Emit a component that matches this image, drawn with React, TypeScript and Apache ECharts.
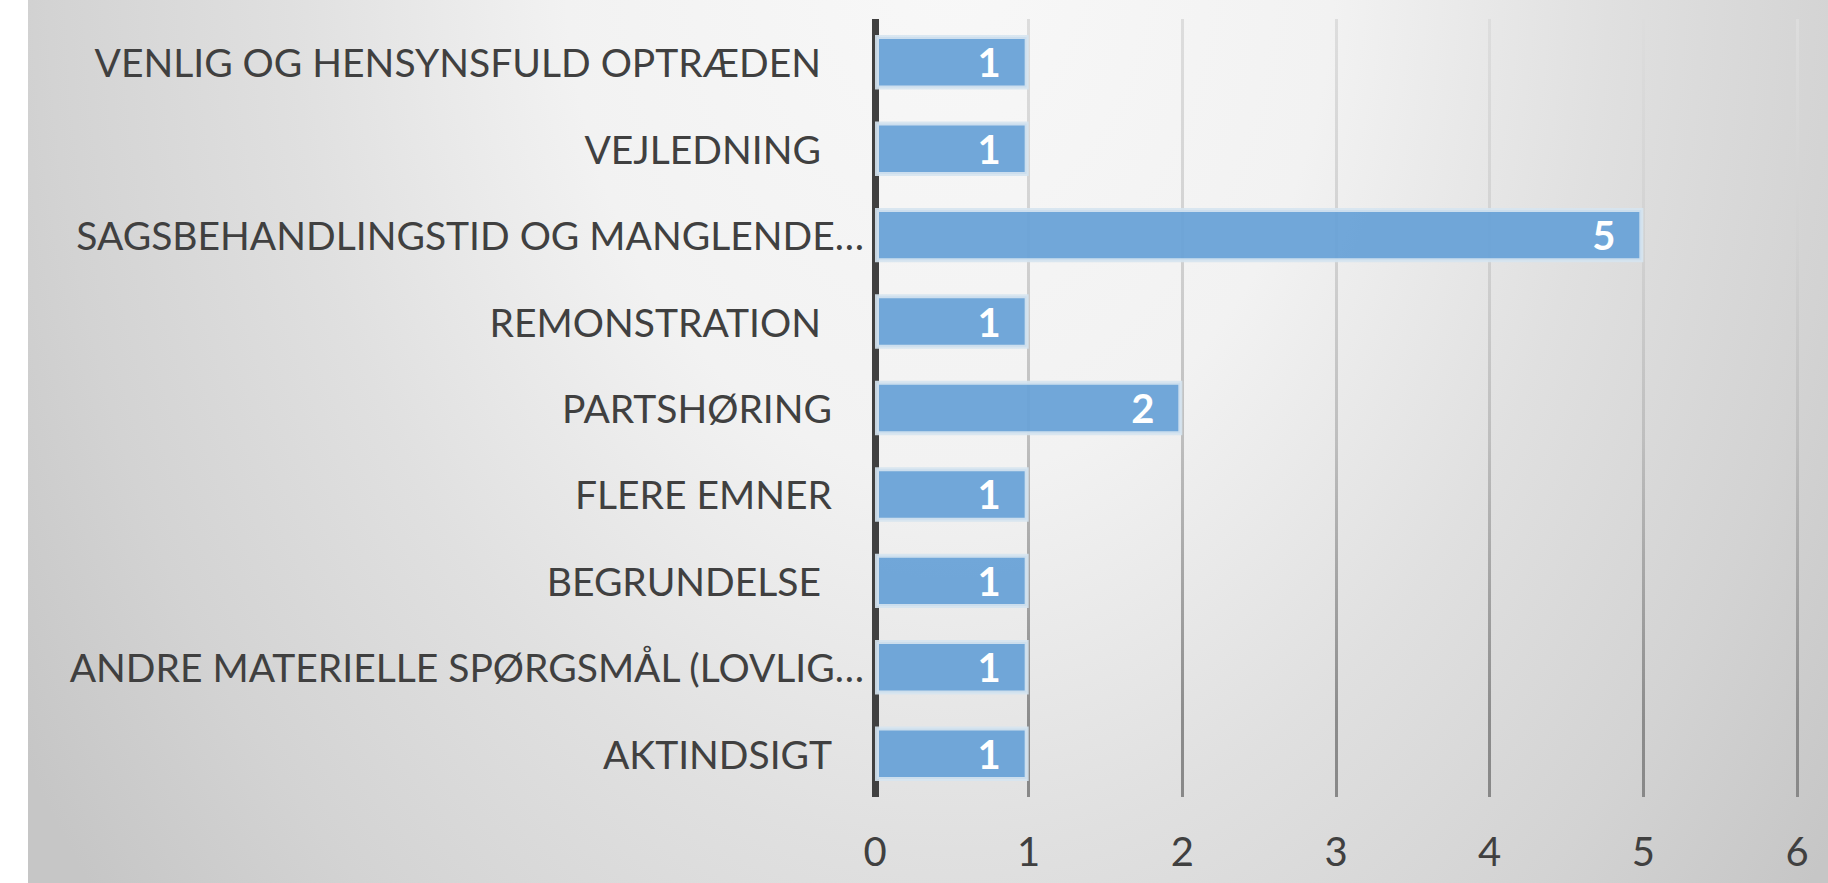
import React, { useEffect, useRef } from "react";
import * as echarts from "echarts";

// Category labels as shown (trailing space kept where the original label has one)
const categories: string[] = [
  "VENLIG OG HENSYNSFULD OPTRÆDEN ",
  "VEJLEDNING ",
  "SAGSBEHANDLINGSTID OG MANGLENDE…",
  "REMONSTRATION ",
  "PARTSHØRING",
  "FLERE EMNER",
  "BEGRUNDELSE ",
  "ANDRE MATERIELLE SPØRGSMÅL (LOVLIG…",
  "AKTINDSIGT",
];
const counts: number[] = [1, 1, 5, 1, 2, 1, 1, 1, 1];
const valueMin = 0;
const valueMax = 6;
const valueStep = 1;

const FONT = "Lato, 'Open Sans', sans-serif";
const TEXT = "#404040";

export default function App() {
  const ref = useRef<HTMLDivElement>(null);

  useEffect(() => {
    if (!ref.current) return;
    const chart = echarts.init(ref.current, undefined, { renderer: "svg" });
    const baseRich = { color: TEXT, fontSize: 39, fontFamily: FONT };
    chart.setOption({
      animation: false,
      backgroundColor: "transparent",
      grid: { left: 875, right: 31, top: 19, bottom: 86, containLabel: false },
      xAxis: {
        type: "value",
        min: valueMin,
        max: valueMax,
        interval: valueStep,
        axisLine: { show: false },
        axisTick: { show: false },
        axisLabel: { color: TEXT, fontSize: 40, fontFamily: FONT, margin: 34 },
        splitLine: {
          show: true,
          lineStyle: {
            width: 3,
            color: {
              type: "linear",
              x: 0,
              y: 0,
              x2: 0,
              y2: 800,
              global: true,
              colorStops: [
                { offset: 0, color: "#dedede" },
                { offset: 0.3, color: "#d2d2d2" },
                { offset: 0.55, color: "#bebebe" },
                { offset: 0.9, color: "#8c8c8c" },
                { offset: 1, color: "#888888" },
              ],
            },
          },
        },
      },
      yAxis: {
        type: "category",
        data: categories,
        inverse: true,
        axisLine: { show: true, lineStyle: { color: TEXT, width: 7, cap: "butt" } },
        axisTick: { show: false },
        axisLabel: {
          margin: 11,
          color: TEXT,
          fontSize: 39,
          fontFamily: FONT,
          formatter: (v: string) => {
            if (v.endsWith("…")) return `{t|${v}}`;
            if (v.endsWith(" ")) return `{w|${v.trim()}}`;
            return `{n|${v}}`;
          },
          rich: {
            t: { ...baseRich },
            n: { ...baseRich, padding: [0, 32, 0, 0] },
            w: { ...baseRich, padding: [0, 43, 0, 0] },
          },
        },
      },
      series: [
        {
          type: "bar",
          data: counts,
          barCategoryGap: "37%",
          itemStyle: {
            color: "rgba(105,162,215,0.95)",
            borderColor: "rgba(214,228,240,0.9)",
            borderWidth: 4,
          },
          label: {
            show: true,
            position: "insideRight",
            distance: 28,
            color: "#ffffff",
            fontSize: 40,
            fontWeight: "bold",
            fontFamily: FONT,
          },
        },
      ],
    });
    return () => chart.dispose();
  }, []);

  return (
    <div
      style={{
        position: "fixed",
        left: 0,
        top: 0,
        width: 1828,
        height: 883,
        background: "#ffffff",
        overflow: "hidden",
      }}
    >
      <div
        style={{
          position: "absolute",
          left: 28,
          top: 0,
          width: 1800,
          height: 883,
          background:
            "radial-gradient(ellipse 1100px 1500px at 922px -50px, #f8f8f8 0%, #f2f2f2 35%, #e0e0e0 60%, #d3d3d3 82%, #c6c6c6 100%)",
        }}
      />
      <div
        ref={ref}
        style={{ position: "absolute", left: 0, top: 0, width: 1828, height: 883 }}
      />
    </div>
  );
}
